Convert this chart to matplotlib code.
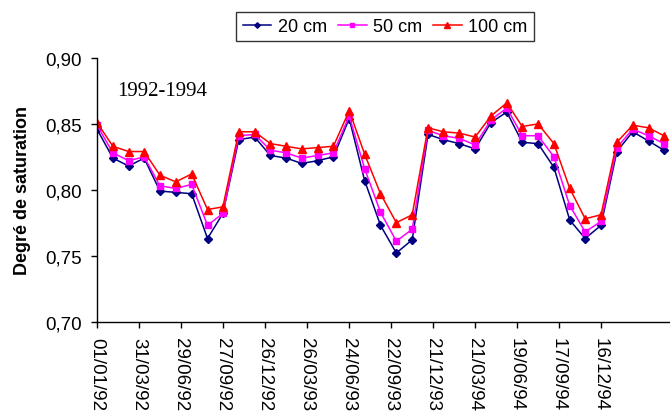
import matplotlib
matplotlib.use('Agg')
import matplotlib.pyplot as plt
import matplotlib.dates as mdates
import matplotlib.ticker as mticker
import pandas as pd

# days after 01/01/92 for each measurement
day_offsets = [0, 34, 68, 101, 135, 169, 203, 237, 270, 304, 338, 372, 406,
               439, 473, 507, 541, 574, 608, 642, 676, 710, 743, 777, 811,
               845, 879, 912, 946, 980, 1014, 1047, 1081, 1115, 1149, 1183, 1216]

sat_20cm = [0.846, 0.824, 0.818, 0.824, 0.799, 0.798, 0.797, 0.763, 0.782,
            0.838, 0.840, 0.826, 0.824, 0.820, 0.822, 0.825, 0.854, 0.807,
            0.773, 0.752, 0.762, 0.842, 0.838, 0.835, 0.831, 0.851, 0.859,
            0.836, 0.835, 0.817, 0.777, 0.763, 0.773, 0.829, 0.844, 0.837,
            0.830]
sat_50cm = [0.849, 0.828, 0.822, 0.825, 0.803, 0.801, 0.804, 0.773, 0.782,
            0.841, 0.842, 0.830, 0.828, 0.824, 0.826, 0.828, 0.856, 0.816,
            0.783, 0.761, 0.770, 0.845, 0.841, 0.839, 0.834, 0.853, 0.862,
            0.841, 0.841, 0.825, 0.788, 0.768, 0.776, 0.832, 0.846, 0.841,
            0.835]
sat_100cm = [0.851, 0.833, 0.829, 0.829, 0.811, 0.806, 0.812, 0.785, 0.787,
             0.844, 0.844, 0.835, 0.833, 0.831, 0.832, 0.833, 0.860, 0.827,
             0.797, 0.775, 0.781, 0.847, 0.844, 0.843, 0.840, 0.856, 0.866,
             0.848, 0.850, 0.835, 0.801, 0.778, 0.781, 0.836, 0.849, 0.847,
             0.841]

start = pd.Timestamp('1992-01-01')
dates = [start + pd.Timedelta(days=d) for d in day_offsets]
tick_dates = pd.date_range(start, periods=13, freq='90D')

fig = plt.figure(figsize=(6.7, 4.14), dpi=100)
ax = fig.add_axes([0.1448, 0.221, 0.8552, 0.6365])

ax.plot(dates, sat_20cm, color='#000080', marker='D', markersize=4, lw=1.1, label='20 cm')
ax.plot(dates, sat_50cm, color='#FF00FF', marker='s', markersize=4.5, lw=1.1, label='50 cm')
ax.plot(dates, sat_100cm, color='#FF0000', marker='^', markersize=5.5, lw=1.1, label='100 cm')

ax.set_ylim(0.70, 0.90)
ax.set_xlim(start, start + pd.Timedelta(days=1229))
ax.yaxis.set_major_locator(mticker.MultipleLocator(0.05))
ax.yaxis.set_major_formatter(mticker.FuncFormatter(lambda v, p: f'{v:.2f}'.replace('.', ',')))
ax.set_xticks(tick_dates)
ax.xaxis.set_major_formatter(mdates.DateFormatter('%d/%m/%y'))

for s in ['top', 'right']:
    ax.spines[s].set_visible(False)
for s in ['left', 'bottom']:
    ax.spines[s].set_linewidth(1.0)

ax.tick_params(axis='both', direction='out', length=4, width=1, labelsize=13.5,
               labelfontfamily='Liberation Sans')
ax.tick_params(axis='y', pad=7)
ax.tick_params(axis='x', pad=7)
plt.setp(ax.get_xticklabels(), rotation=-90, ha='center', va='top')

ax.set_ylabel('Degré de saturation', fontsize=13, fontweight='bold',
              family='Liberation Sans', labelpad=10)
ax.text(0.035, 0.876, '1992-1994', transform=ax.transAxes, fontsize=15,
        family='Liberation Serif', va='center', ha='left')

leg = fig.legend(loc='center', bbox_to_anchor=(0.5746, 0.9336), ncol=3,
                 frameon=True, fancybox=False, edgecolor='black',
                 prop={'family': 'Liberation Sans', 'size': 13},
                 handlelength=1.6, handletextpad=0.35, columnspacing=0.6,
                 borderpad=0.35, borderaxespad=0, markerscale=0.7)
leg.get_frame().set_linewidth(1.0)

fig.savefig('out.png', dpi=100)
